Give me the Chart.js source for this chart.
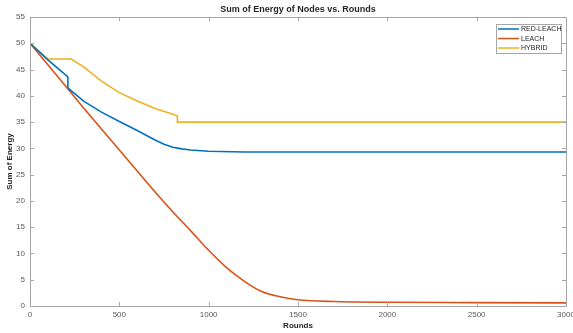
<!DOCTYPE html>
<html>
<head>
<meta charset="utf-8">
<script src="https://cdn.jsdelivr.net/npm/chart.js@4.4.1/dist/chart.umd.min.js"></script>
<style>
  html, body { margin: 0; padding: 0; background: #fff; }
  #wrap { width: 573px; height: 333px; }
</style>
</head>
<body>
<div id="wrap"><canvas id="energyChart" width="573" height="333"></canvas></div>
<script>
// Rounds / energy (duplicated rounds = vertical drop)
const redLeachRounds = [0, 95, 212, 212, 300, 400, 500, 600, 650, 700, 750, 800, 850, 900, 1000, 1200, 1500, 3000];
const redLeachEnergy = [50, 47, 43.6, 41.5, 39.0, 36.9, 35.1, 33.4, 32.5, 31.6, 30.8, 30.2, 29.9, 29.7, 29.45, 29.3, 29.3, 29.3];

const leachRounds = [0, 100, 200, 300, 400, 500, 600, 700, 800, 900, 1000, 1100, 1200, 1300, 1400, 1500, 1700, 2000, 2500, 3000];
const leachEnergy = [50, 45.9, 41.8, 37.7, 33.7, 29.7, 25.7, 21.7, 17.9, 14.3, 10.6, 7.3, 4.7, 2.7, 1.75, 1.2, 0.85, 0.7, 0.65, 0.6];

const hybridRounds = [0, 102, 230, 300, 400, 500, 600, 700, 825, 825, 3000];
const hybridEnergy = [50, 47, 47, 45.5, 42.8, 40.6, 39.0, 37.6, 36.2, 35.0, 35.0];

const xTicks = [0, 500, 1000, 1500, 2000, 2500, 3000];
const yTicks = [0, 5, 10, 15, 20, 25, 30, 35, 40, 45, 50, 55];

function pts(xs, ys) {
    return xs.map((x, i) => ({ x: x, y: ys[i] }));
}

const FONT = 'Liberation Sans, Arial, sans-serif';

// box around the axes, ticks pointing inward, title and legend inside the axes
const matlabAxes = {
    id: 'matlabAxes',
    afterDatasetsDraw(chart) {
        const ctx = chart.ctx;
        const a = chart.chartArea;
        const xs = chart.scales.x, ys = chart.scales.y;
        ctx.save();
        ctx.strokeStyle = '#a6a6a6';
        ctx.lineWidth = 1;
        ctx.beginPath();
        xTicks.forEach(v => {
            const px = Math.round(xs.getPixelForValue(v)) + 0.5;
            ctx.moveTo(px, a.bottom); ctx.lineTo(px, a.bottom - 4);
            ctx.moveTo(px, a.top); ctx.lineTo(px, a.top + 4);
        });
        yTicks.forEach(v => {
            const py = Math.round(ys.getPixelForValue(v)) + 0.5;
            ctx.moveTo(a.left, py); ctx.lineTo(a.left + 4, py);
            ctx.moveTo(a.right, py); ctx.lineTo(a.right - 4, py);
        });
        ctx.stroke();
        ctx.strokeRect(Math.round(a.left) + 0.5, Math.round(a.top) + 0.5,
                       Math.round(a.right - a.left), Math.round(a.bottom - a.top));

        // title
        ctx.fillStyle = '#262626';
        ctx.font = 'bold 9px ' + FONT;
        ctx.textAlign = 'center';
        ctx.textBaseline = 'middle';
        ctx.fillText('Sum of Energy of Nodes vs. Rounds', (a.left + a.right) / 2, 10);

        // legend
        const lx = 496, ly = 24, lw = 65, lh = 29;
        ctx.fillStyle = '#fff';
        ctx.fillRect(lx, ly, lw, lh);
        ctx.strokeStyle = '#a6a6a6';
        ctx.strokeRect(lx + 0.5, ly + 0.5, lw, lh);
        ctx.font = '7px ' + FONT;
        ctx.textAlign = 'left';
        chart.data.datasets.forEach((ds, i) => {
            const y = ly + 5 + i * 9.5;
            ctx.strokeStyle = ds.borderColor;
            ctx.lineWidth = 1.5;
            ctx.beginPath();
            ctx.moveTo(lx + 2, y); ctx.lineTo(lx + 23, y);
            ctx.stroke();
            ctx.fillStyle = '#262626';
            ctx.fillText(ds.label, lx + 25, y + 0.5);
        });
        ctx.restore();
    }
};

const ctx = document.getElementById('energyChart').getContext('2d');
new Chart(ctx, {
    type: 'line',
    data: {
        datasets: [{
            label: 'RED-LEACH',
            data: pts(redLeachRounds, redLeachEnergy),
            borderColor: '#0072BD'
        }, {
            label: 'LEACH',
            data: pts(leachRounds, leachEnergy),
            borderColor: '#D95319',
            cubicInterpolationMode: 'monotone'
        }, {
            label: 'HYBRID',
            data: pts(hybridRounds, hybridEnergy),
            borderColor: '#EDB120'
        }]
    },
    options: {
        responsive: false,
        animation: false,
        layout: { padding: { top: 17, right: 7, left: 0, bottom: 0 } },
        elements: {
            point: { radius: 0 },
            line: { borderWidth: 1.6, fill: false }
        },
        plugins: {
            legend: { display: false },
            tooltip: { enabled: false }
        },
        scales: {
            x: {
                type: 'linear',
                min: 0, max: 3000,
                afterBuildTicks: s => { s.ticks = xTicks.map(v => ({ value: v })); },
                afterFit: s => { s.height = 27; s.paddingLeft = 0; s.paddingRight = 0; },
                grid: { display: false, drawTicks: false },
                border: { display: false },
                ticks: { color: '#595959', font: { family: FONT, size: 8 }, padding: 4, maxRotation: 0,
                         callback: v => String(v) },
                title: { display: true, text: 'Rounds', color: '#262626',
                         font: { family: FONT, size: 8, weight: 'bold' }, padding: { top: 0, bottom: 2 } }
            },
            y: {
                min: 0, max: 55,
                afterBuildTicks: s => { s.ticks = yTicks.map(v => ({ value: v })); },
                afterFit: s => { s.width = 30; },
                grid: { display: false, drawTicks: false },
                border: { display: false },
                ticks: { color: '#595959', font: { family: FONT, size: 8 }, padding: 5,
                         callback: v => String(v) },
                title: { display: true, text: 'Sum of Energy', color: '#262626',
                         font: { family: FONT, size: 8, weight: 'bold' }, padding: { top: 5, bottom: 0 } }
            }
        }
    },
    plugins: [matlabAxes]
});
</script>
</body>
</html>
